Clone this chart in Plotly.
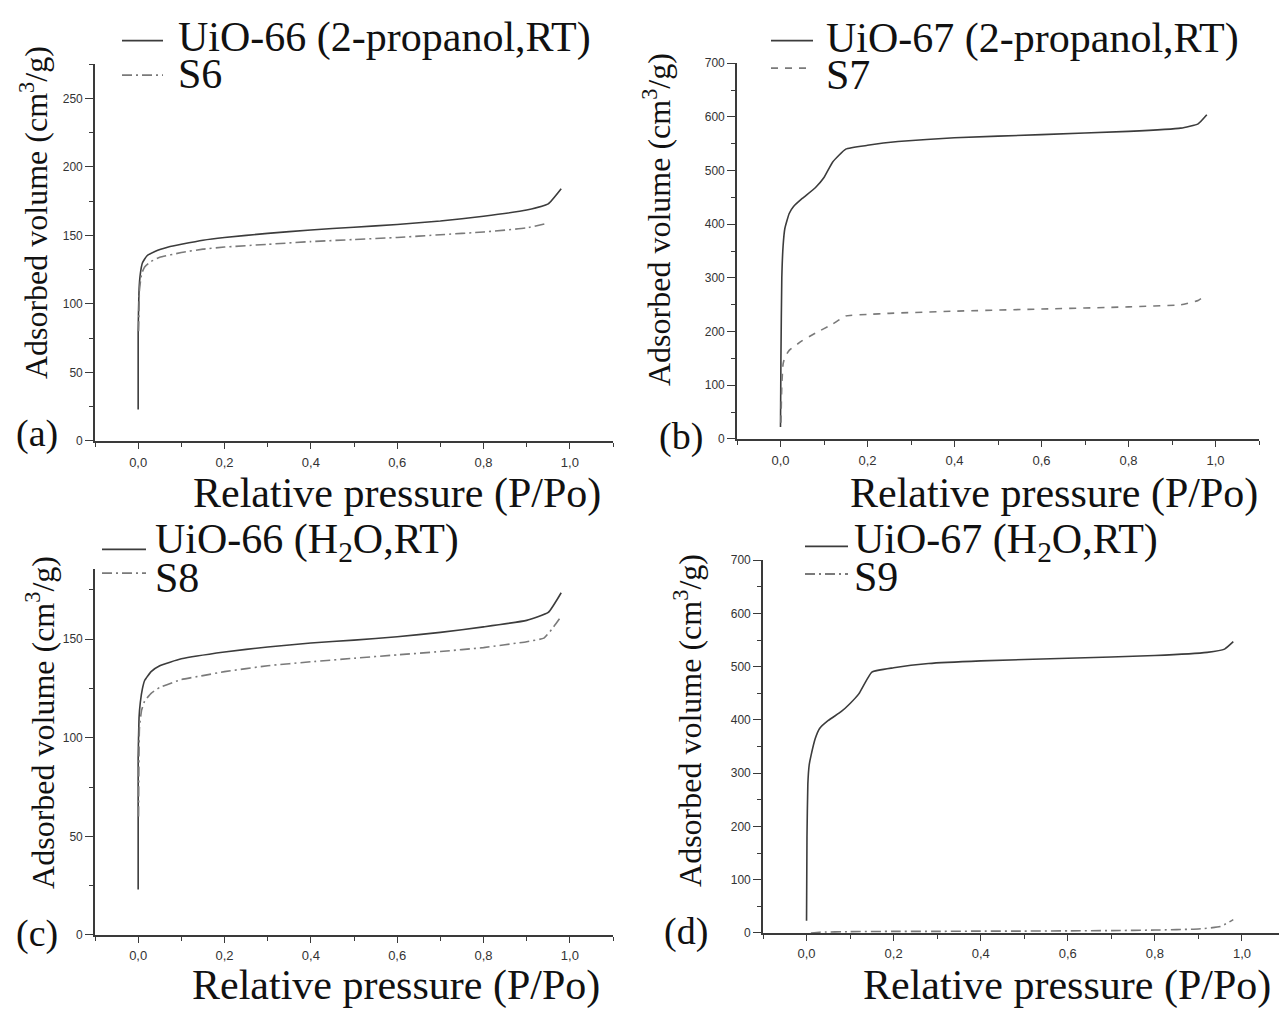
import plotly.graph_objects as go

W, H = 1279, 1009

# ---- isotherm data (relative pressure P/Po, adsorbed volume cm3/g) ----
p_uio66_ipa = [0.0, 0.0, 0.002, 0.005, 0.01, 0.02, 0.04, 0.07, 0.1, 0.15, 0.2, 0.3, 0.4, 0.5, 0.6, 0.7, 0.8, 0.9, 0.95, 0.98]
v_uio66_ipa = [23, 80, 110, 122, 130, 135, 138.5, 141.5, 143.5, 146.5, 148.5, 151.5, 154, 156, 158, 160.5, 164, 168.5, 173, 184]

p_s6 = [0.001, 0.003, 0.008, 0.015, 0.03, 0.05, 0.1, 0.15, 0.2, 0.3, 0.4, 0.5, 0.6, 0.7, 0.8, 0.9, 0.95]
v_s6 = [80, 110, 122, 127, 131, 134, 137.5, 140, 141.5, 143.5, 145.5, 147, 148.5, 150.5, 152.5, 155.5, 159]

p_uio67_ipa = [0.0, 0.001, 0.003, 0.006, 0.01, 0.02, 0.03, 0.05, 0.08, 0.1, 0.12, 0.15, 0.2, 0.27, 0.4, 0.6, 0.8, 0.92, 0.96, 0.98]
v_uio67_ipa = [22, 150, 300, 360, 392, 420, 433, 448, 468, 487, 516, 540, 547, 554, 561, 567, 573, 579, 587, 604]

p_s7 = [0.001, 0.003, 0.006, 0.01, 0.02, 0.05, 0.08, 0.12, 0.15, 0.2, 0.25, 0.4, 0.6, 0.8, 0.92, 0.96, 0.975]
v_s7 = [30, 100, 140, 152, 165, 183, 197, 214, 229, 232, 234, 238, 242, 246, 250, 258, 266]

p_uio66_h2o = [0.0, 0.0, 0.002, 0.005, 0.01, 0.015, 0.03, 0.05, 0.1, 0.2, 0.3, 0.4, 0.5, 0.6, 0.7, 0.8, 0.9, 0.95, 0.98]
v_uio66_h2o = [23, 90, 110, 118, 125, 129, 133.5, 136.5, 140, 143.5, 146, 148, 149.5, 151.2, 153.4, 156.2, 159.5, 163.5, 173.5]

p_s8 = [0.001, 0.003, 0.008, 0.015, 0.03, 0.05, 0.1, 0.15, 0.2, 0.3, 0.4, 0.5, 0.6, 0.7, 0.8, 0.9, 0.94, 0.96, 0.98]
v_s8 = [60, 105, 114, 118.5, 122.5, 125.5, 129.5, 131.5, 133.5, 136.5, 138.5, 140.3, 142, 143.7, 145.7, 148.7, 150.5, 155.5, 161.5]

p_uio67_h2o = [0.0, 0.001, 0.003, 0.006, 0.01, 0.02, 0.03, 0.05, 0.08, 0.1, 0.12, 0.15, 0.2, 0.28, 0.4, 0.6, 0.8, 0.92, 0.96, 0.98]
v_uio67_h2o = [23, 180, 280, 315, 332, 365, 384, 399, 416, 431, 449, 490, 498, 506, 511, 516, 521, 527, 533, 547]

p_s9 = [0.01, 0.03, 0.1, 0.2, 0.3, 0.4, 0.5, 0.6, 0.7, 0.8, 0.9, 0.95, 0.98]
v_s9 = [0, 1.5, 2.5, 3, 3, 3.5, 3.5, 4, 4.5, 5.5, 7.5, 12, 25]

x_ticks = [0.0, 0.2, 0.4, 0.6, 0.8, 1.0]

SERIF = "Liberation Serif, Times New Roman, serif"
SANS = "Liberation Sans, Arial, sans-serif"
SOLID_C = "#3c3c3c"
DASH_C = "#7a7a7a"
AXIS_C = "#3a3a3a"
DASHDOT = "10px,4px,2px,4px"
DASHED = "7px,7px"


def px(x):
    return x / W


def py(y):
    return 1 - y / H


# panel geometry in pixels: (left, right, bottom, top), y range, major/minor y ticks
panels = [
    dict(box=(95, 613, 440, 58), xr=[-0.1, 1.1], yr=[0, 275], dy=50, mdy=25, stand=3),
    dict(box=(737, 1259, 438, 57), xr=[-0.1, 1.1], yr=[0, 700], dy=100, mdy=50, stand=3),
    dict(box=(95, 613, 941, 570), xr=[-0.1, 1.1], yr=[0, 185.5], dy=50, mdy=25, stand=2),
    dict(box=(763, 1279, 939, 561), xr=[-0.1, 1.085], yr=[0, 700], dy=100, mdy=50, stand=2),
]

series = [
    [(p_uio66_ipa, v_uio66_ipa, "UiO-66 (2-propanol,RT)", SOLID_C, "solid"),
     (p_s6, v_s6, "S6", DASH_C, DASHDOT)],
    [(p_uio67_ipa, v_uio67_ipa, "UiO-67 (2-propanol,RT)", SOLID_C, "solid"),
     (p_s7, v_s7, "S7", DASH_C, DASHED)],
    [(p_uio66_h2o, v_uio66_h2o, "UiO-66 (H<sub>2</sub>O,RT)", SOLID_C, "solid"),
     (p_s8, v_s8, "S8", DASH_C, DASHDOT)],
    [(p_uio67_h2o, v_uio67_h2o, "UiO-67 (H<sub>2</sub>O,RT)", SOLID_C, "solid"),
     (p_s9, v_s9, "S9", DASH_C, DASHDOT)],
]

fig = go.Figure()
layout = {}

for i, (pn, ser) in enumerate(zip(panels, series)):
    n = "" if i == 0 else str(i + 1)
    l, r, b, t = pn["box"]
    layout["xaxis" + n] = dict(
        domain=[px(l), min(px(r), 1.0)], range=pn["xr"], anchor="y" + n,
        tickvals=x_ticks, tickformat=".1f",
        ticks="outside", ticklen=6, tickwidth=1.3, tickcolor=AXIS_C,
        minor=dict(dtick=0.1, tick0=0, ticks="outside", ticklen=4, tickcolor=AXIS_C, tickwidth=1.2),
        showline=True, linecolor=AXIS_C, linewidth=1.6, showgrid=False, zeroline=False,
        tickfont=dict(family=SANS, size=13, color="#333"), ticklabelstandoff=pn["stand"],
    )
    layout["yaxis" + n] = dict(
        domain=[py(b), py(t)], range=pn["yr"], anchor="x" + n,
        dtick=pn["dy"], tick0=0,
        ticks="outside", ticklen=8, tickwidth=1.3, tickcolor=AXIS_C,
        minor=dict(dtick=pn["mdy"], tick0=0, ticks="outside", ticklen=4, tickcolor=AXIS_C, tickwidth=1.2),
        showline=True, linecolor=AXIS_C, linewidth=1.6, showgrid=False, zeroline=False,
        tickfont=dict(family=SANS, size=12, color="#333"),
    )
    for (xs, ys, name, col, dash) in ser:
        fig.add_trace(go.Scatter(
            x=xs, y=ys, mode="lines", name=name, showlegend=False,
            line=dict(color=col, width=1.6, dash=dash, shape="spline", smoothing=0.4),
            xaxis="x" + n, yaxis="y" + n,
        ))

# legend blocks: sample line x-span, sample y's, text x, text centre y's
legend_pos = [
    dict(x0=122, x1=163, ys=(34, 69), tx=176, ty=(31, 68)),
    dict(x0=771, x1=813, ys=(34, 62), tx=824, ty=(32, 69)),
    dict(x0=102, x1=146, ys=(550, 574), tx=153, ty=(543, 579)),
    dict(x0=805, x1=848, ys=(547, 575), tx=852, ty=(543, 578)),
]

shapes = []
annotations = []
for lp, ser in zip(legend_pos, series):
    for k, (xs, ys, name, col, dash) in enumerate(ser):
        shapes.append(dict(type="line", xref="paper", yref="paper",
                           x0=px(lp["x0"]), x1=px(lp["x1"]), y0=py(lp["ys"][k]), y1=py(lp["ys"][k]),
                           line=dict(color=col, width=1.8, dash=dash)))
        annotations.append(dict(text=name, xref="paper", yref="paper", x=px(lp["tx"]), y=py(lp["ty"][k]),
                                xanchor="left", yanchor="middle", showarrow=False,
                                font=dict(family=SERIF, size=42, color="#111")))

# panel letters
for lab, (x, y) in zip(["(a)", "(b)", "(c)", "(d)"], [(37, 433), (681, 436), (37, 940), (686, 938)]):
    annotations.append(dict(text=lab, xref="paper", yref="paper", x=px(x), y=py(y),
                            xanchor="center", yanchor="middle", showarrow=False,
                            font=dict(family=SERIF, size=38, color="#111")))

# axis titles
for (x, y) in [(34, 209), (657, 216), (40, 726), (688, 724)]:
    annotations.append(dict(text="Adsorbed volume (cm<sup>3</sup>/g)", xref="paper", yref="paper",
                            x=px(x), y=py(y), xanchor="center", yanchor="middle", textangle=-90,
                            showarrow=False, font=dict(family=SERIF, size=32, color="#111")))
for (x, y) in [(397, 493), (1054, 493), (396, 992), (1067, 992)]:
    annotations.append(dict(text="Relative pressure (P/Po)", xref="paper", yref="paper",
                            x=px(x), y=py(y), xanchor="center", yanchor="middle",
                            showarrow=False, font=dict(family=SERIF, size=42, color="#111")))

fig.update_layout(
    width=W, height=H, margin=dict(l=0, r=0, t=0, b=0),
    paper_bgcolor="white", plot_bgcolor="white",
    separators=",.", showlegend=False,
    shapes=shapes, annotations=annotations,
    **layout,
)

fig.write_html("out.html", config={"displayModeBar": False})
